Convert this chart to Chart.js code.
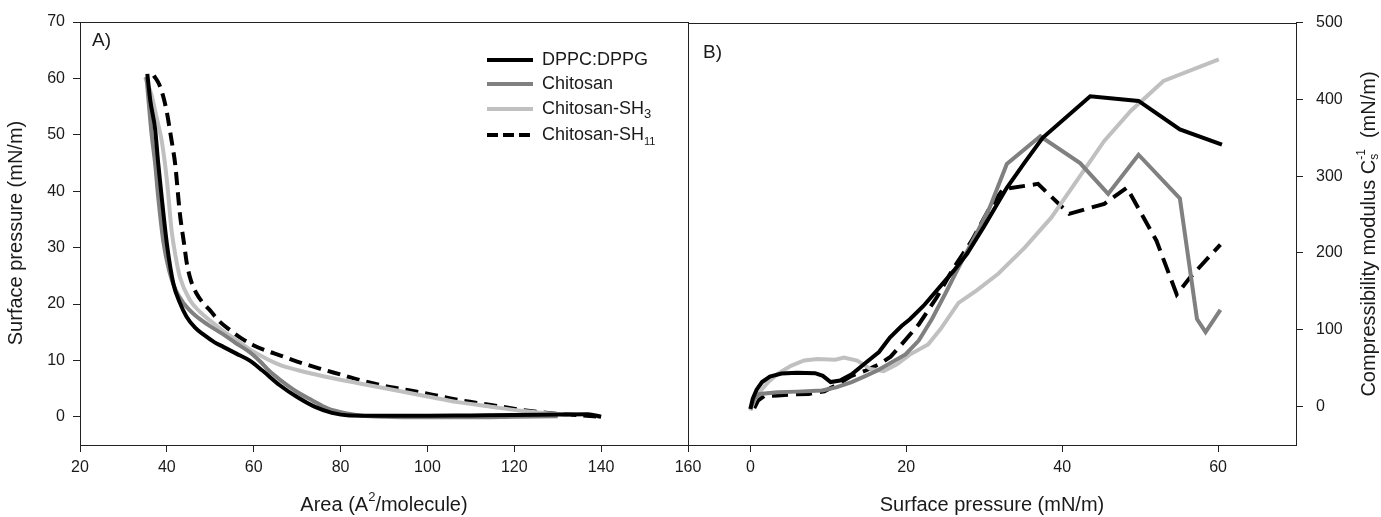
<!DOCTYPE html>
<html>
<head>
<meta charset="utf-8">
<script src="https://cdn.jsdelivr.net/npm/chart.js@4"></script>
<style>
  body { margin: 0; background: #fff; }
  #wrap { position: relative; width: 1381px; height: 517px; overflow: hidden; }
  canvas { position: absolute; top: 0; }
  #chartA { left: 0; }
  #chartB { left: 680px; }
</style>
</head>
<body>
<div id="wrap">
  <canvas id="chartA" width="720" height="517"></canvas>
  <canvas id="chartB" width="701" height="517"></canvas>
</div>
<script>
// series names (legend)
const seriesNames = ['DPPC:DPPG', 'Chitosan', 'Chitosan-SH3', 'Chitosan-SH11'];
const seriesColors = ['#000000', '#808080', '#c0c0c0', '#000000'];

// Panel A: isotherms [area (A^2/molecule), surface pressure (mN/m)]
const isoDPPC = [[35.5,60.8],[36.2,56],[37.3,51],[38,45],[38.8,39],[40,30.7],[41.5,23.6],[43,20.2],[44.5,17.8],[46.5,15.8],[48.4,14.6],[51,13.2],[53,12.4],[56,11.2],[59,10],[62,8.2],[66,5.6],[70,3.5],[74,1.8],[78,0.7],[82,0.25],[90,0.2],[100,0.2],[110,0.25],[120,0.3],[130,0.4],[137,0.45],[140,0]];
const isoChitosan = [[35.3,60.3],[35.9,55],[36.5,50],[37.3,44.9],[38,39],[39.2,31],[40.5,26],[42,22.5],[44,20],[46.5,18],[49.5,16.3],[53,14.6],[56,13],[59,11.5],[61.5,9.8],[63.5,8.2],[66,6.6],[70,4.4],[73.5,2.9],[77,1.5],[81.5,0.6],[85,0.2],[90,0],[100,-0.1],[110,-0.1],[120,0],[130,0.1]];
const isoSH3 = [[35,60.2],[36.5,57],[37.6,53.2],[38.8,49],[40,42],[41.1,33],[42,28.5],[43,24.8],[45.3,20.7],[47.5,18.7],[49.9,17.1],[53,15.2],[56.1,13.6],[59,12],[62.2,10.6],[66,9.2],[70,8.3],[76,7.2],[83.8,6],[92,4.8],[100,3.6],[107,2.6],[114.6,1.8],[121,1.1],[128,0.6],[133,0.3]];
const isoSH11 = [[37,60.5],[38.2,59],[39.2,56.7],[40,54],[40.7,50.8],[41.3,48],[41.9,44.9],[43,36],[44,30.5],[44.6,27.2],[45.6,24],[46.8,21.9],[48.3,20.2],[49.9,18.9],[52,17],[54.5,15.4],[57,14],[59.9,12.7],[63,11.7],[66,10.9],[70,9.8],[75,8.6],[80,7.5],[85,6.4],[90,5.5],[95,4.8],[100,4.1],[107,3],[114.6,2.1],[122,1.2],[129,0.6],[135,0.3],[139.8,0]];

// Panel B: compressibility modulus [surface pressure (mN/m), Cs^-1 (mN/m)]
const modDPPC = [[0,-3],[0.3,10],[0.8,22],[1.5,32],[2.5,39],[4,43],[6,44],[8.3,43.5],[9.3,40],[10.3,32],[11.5,34],[13,42],[14.8,57],[16.5,71],[17.9,90],[19.4,105],[20.5,114],[22.2,131],[23.9,151],[26.1,177],[27.8,199],[30,235],[32.9,285],[35.2,318],[37.5,350],[43.6,404],[49.8,398],[55.1,361],[60.5,341]];
const modChitosan = [[0,-3],[0.5,10],[1.2,16.5],[3.5,18.6],[6,19.5],[9.2,21],[11,25],[13,32],[14.8,40],[16.3,47],[17.7,55],[19.9,68],[21.6,86],[23.3,114],[25,147],[26.7,181],[29,225],[30.7,259],[32.9,316],[37.2,352],[42.3,317],[45.9,277],[49.8,328],[55.1,271],[57.3,114],[58.4,97],[60.3,126]];
const modSH3 = [[0,-5],[0.5,8],[1.2,19],[2.3,32],[3.5,42.5],[5.2,53],[6.9,60],[8.6,62],[10.9,61],[12,64],[13.7,60],[15.4,49],[17.1,46],[18.8,55],[20.5,68],[22.8,81],[24.4,101],[26.7,135],[29,151],[31.8,173],[35.2,207],[38.6,246],[42,296],[45.4,346],[48.8,385],[53,424],[60.1,452]];
const modSH11 = [[0.5,-2],[1,8],[1.8,14],[3.5,14.5],[5.9,16],[7.5,16.5],[9.5,20],[11,28],[13,40],[14.8,47],[16.5,55],[18,65],[19.4,81],[21.6,107],[23.9,142],[26.1,181],[28.4,216],[30.5,255],[32.4,283],[36.9,290],[40.9,251],[45.4,264],[48.3,285],[52.1,216],[54.7,146],[56.4,168],[60.3,211]];

// tick labels
const ticksAx = [20, 40, 60, 80, 100, 120, 140, 160];
const ticksAy = [0, 10, 20, 30, 40, 50, 60, 70];
const ticksBx = [0, 20, 40, 60];
const ticksBy = [0, 100, 200, 300, 400, 500];

const FONT = "'Liberation Sans', Arial, sans-serif";
const INK = '#1a1a1a';
Chart.defaults.font.family = FONT;

function partWidth(ctx, p, size) {
  if (typeof p === 'string') {
    ctx.font = size + 'px ' + FONT;
    return ctx.measureText(p).width;
  }
  ctx.font = Math.round(size * (p.scale || 0.65)) + 'px ' + FONT;
  const a = p.sup ? ctx.measureText(p.sup).width : 0;
  const b = p.sub ? ctx.measureText(p.sub).width : 0;
  return Math.max(a, b);
}

function drawRich(ctx, parts, x, y, size, align) {
  const w = parts.reduce((s, p) => s + partWidth(ctx, p, size), 0);
  let cx = align === 'center' ? x - w / 2 : x;
  ctx.textAlign = 'left';
  ctx.textBaseline = 'middle';
  ctx.fillStyle = INK;
  parts.forEach(p => {
    const pw = partWidth(ctx, p, size);
    if (typeof p === 'string') {
      ctx.font = size + 'px ' + FONT;
      ctx.fillText(p, cx, y);
    } else {
      ctx.font = Math.round(size * (p.scale || 0.65)) + 'px ' + FONT;
      if (p.sup) ctx.fillText(p.sup, cx, y - size * 0.38);
      if (p.sub) ctx.fillText(p.sub, cx, y + size * (p.drop || 0.3));
    }
    cx += pw;
  });
}

const framePlugin = {
  id: 'frame',
  afterDraw(chart) {
    const {ctx, chartArea: a} = chart;
    ctx.save();
    ctx.strokeStyle = '#222';
    ctx.lineWidth = 1;
    ctx.strokeRect(Math.round(a.left) + 0.5, Math.round(a.top) + 0.5,
      Math.round(a.right - a.left), Math.round(a.bottom - a.top));
    ctx.restore();
  }
};

const textA = {
  id: 'textA',
  afterDraw(chart) {
    const ctx = chart.ctx;
    ctx.save();
    drawRich(ctx, ['A)'], 92, 41, 19, 'left');
    drawRich(ctx, ['Area (A', {sup: '2'}, '/molecule)'], 384, 505, 20, 'center');
    ctx.translate(16, 233);
    ctx.rotate(-Math.PI / 2);
    drawRich(ctx, ['Surface pressure (mN/m)'], 0, 0, 20, 'center');
    ctx.restore();

    // legend
    const rows = [60, 84, 109, 135];
    const labels = [['DPPC:DPPG'], ['Chitosan'], ['Chitosan-SH', {sub: '3', scale: 0.72, drop: 0.28}],
      ['Chitosan-SH', {sub: '11', scale: 0.6, drop: 0.36}]];
    ctx.save();
    rows.forEach((y, i) => {
      ctx.beginPath();
      ctx.strokeStyle = seriesColors[i];
      ctx.lineWidth = 4;
      ctx.setLineDash(i === 3 ? [11, 5] : []);
      ctx.moveTo(487, y);
      ctx.lineTo(533, y);
      ctx.stroke();
      drawRich(ctx, labels[i], 542, y, 18, 'left');
    });
    ctx.restore();
  }
};

const textB = {
  id: 'textB',
  afterDraw(chart) {
    const ctx = chart.ctx;
    const ox = 680;
    ctx.save();
    drawRich(ctx, ['B)'], 703 - ox, 53, 19, 'left');
    drawRich(ctx, ['Surface pressure (mN/m)'], 992 - ox, 505, 20, 'center');
    ctx.translate(1369 - ox, 234);
    ctx.rotate(-Math.PI / 2);
    drawRich(ctx, ['Compressibility modulus C', {sub: 's', sup: '-1', scale: 0.6, drop: 0.3}, '  (mN/m)'], 0, 0, 20, 'center');
    ctx.restore();
  }
};

function toXY(pts) {
  return pts.map(([x, y]) => ({x, y}));
}

function makeSets(list, dash, smooth) {
  return list.map((pts, i) => ({
    label: seriesNames[i],
    data: toXY(pts),
    borderColor: seriesColors[i],
    borderWidth: 4,
    borderDash: i === 3 ? dash : [],
    pointRadius: 0,
    fill: false,
    tension: smooth ? 0.4 : 0,
    cubicInterpolationMode: smooth ? 'monotone' : 'default'
  }));
}

function axis(opts) {
  return Object.assign({
    type: 'linear',
    grid: {drawOnChartArea: false, color: '#222', tickColor: '#222', tickLength: 7, tickWidth: 1},
    border: {color: '#222', width: 1},
    ticks: {color: INK, font: {size: 16}, maxRotation: 0, autoSkip: false}
  }, opts);
}

function setTicks(values) {
  return scale => { scale.ticks = values.map(v => ({value: v})); };
}

const common = {
  responsive: false,
  animation: false,
  devicePixelRatio: 1,
  plugins: {legend: {display: false}, tooltip: {enabled: false}}
};

new Chart(document.getElementById('chartA'), {
  type: 'line',
  data: {datasets: makeSets([isoDPPC, isoChitosan, isoSH3, isoSH11], [13, 7], true)},
  options: Object.assign({}, common, {
    layout: {padding: {left: 0, right: 32, top: 22, bottom: 0}},
    scales: {
      x: axis({position: 'bottom', min: 20, max: 160,
        afterBuildTicks: setTicks(ticksAx),
        afterFit: s => { s.height = 72; },
        ticks: {color: INK, font: {size: 16}, maxRotation: 0, autoSkip: false, padding: 6}}),
      y: axis({position: 'left', min: -5, max: 70,
        afterBuildTicks: setTicks(ticksAy),
        afterFit: s => { s.width = 80; },
        ticks: {color: INK, font: {size: 16}, autoSkip: false, padding: 8}})
    }
  }),
  plugins: [framePlugin, textA]
});

new Chart(document.getElementById('chartB'), {
  type: 'line',
  data: {datasets: makeSets([modDPPC, modChitosan, modSH3, modSH11], [16, 8], false)},
  options: Object.assign({}, common, {
    layout: {padding: {left: 8, right: 0, top: 22, bottom: 0}},
    scales: {
      x: axis({position: 'bottom', min: -8, max: 70,
        afterBuildTicks: setTicks(ticksBx),
        afterFit: s => { s.height = 72; },
        ticks: {color: INK, font: {size: 16}, maxRotation: 0, autoSkip: false, padding: 6}}),
      y: axis({position: 'right', min: -50, max: 500,
        afterBuildTicks: setTicks(ticksBy),
        afterFit: s => { s.width = 85; },
        ticks: {color: INK, font: {size: 16}, autoSkip: false, padding: 13}})
    }
  }),
  plugins: [framePlugin, textB]
});
</script>
</body>
</html>
